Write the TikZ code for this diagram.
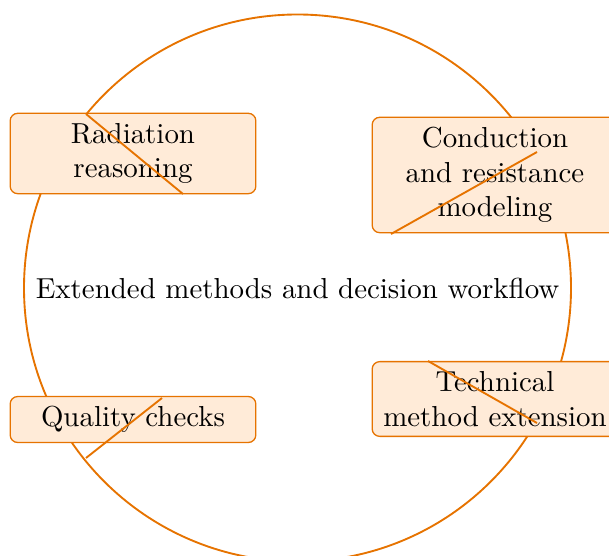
\documentclass[tikz,border=0pt]{standalone}
\definecolor{lineor}{RGB}{230,115,0}
\definecolor{fillor}{RGB}{255,235,216}
\begin{document}
\begin{tikzpicture}[x=0.346pt,y=-0.346pt,
  box/.style={draw=lineor, line width=0.45pt, fill=fillor, rounded corners=2.6pt, minimum width=85pt, align=center, inner sep=3.4pt},
  ring/.style={draw=lineor, line width=0.65pt},
  link/.style={draw=lineor, line width=0.65pt}]
\useasboundingbox (0,0) rectangle (609,556);
\node (center) at (297.5,288) {Extended methods and decision workflow};
\draw[ring] (center.center) circle[radius=273.5];
\node[box] (rad) at (133,153.5) {Radiation\\reasoning};
\node[box] (con) at (495,175) {Conduction\\and resistance\\modeling};
\node[box] (tec) at (495,399) {Technical\\method extension};
\node[box] (qua) at (133,419.5) {Quality checks};
\coordinate (r1) at (86,114);
\coordinate (r2) at (183,194);
\coordinate (c1) at (391,234);
\coordinate (c2) at (537,152);
\coordinate (t1) at (428,361);
\coordinate (t2) at (537,423);
\coordinate (q1) at (162,398);
\coordinate (q2) at (86,458);
\draw[link] (r1) -- (r2);
\draw[link] (c1) -- (c2);
\draw[link] (t1) -- (t2);
\draw[link] (q1) -- (q2);
\end{tikzpicture}
\end{document}
